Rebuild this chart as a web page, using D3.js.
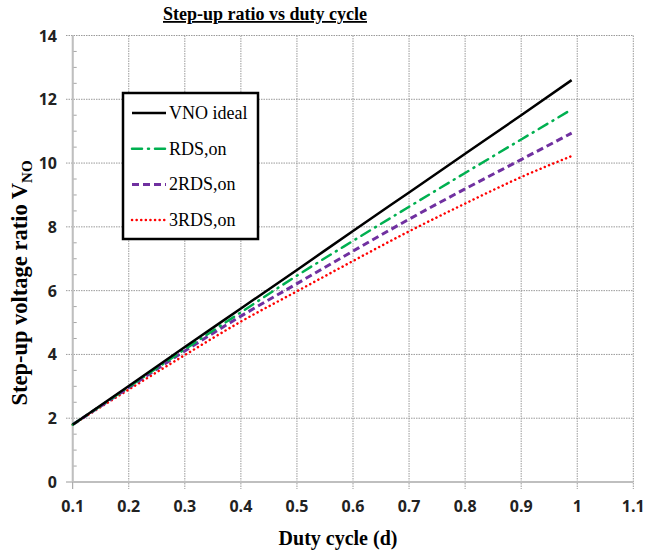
<!DOCTYPE html>
<html>
<head>
<meta charset="utf-8">
<script src="https://cdnjs.cloudflare.com/ajax/libs/d3/7.8.5/d3.min.js"></script>
<style>
  body { margin: 0; background: #fff; }
  svg { display: block; }
</style>
</head>
<body>
<svg width="646" height="555"></svg>
<script>
// duty cycle values
var duty = [0.1, 0.2, 0.3, 0.4, 0.5, 0.6, 0.7, 0.8, 0.9, 0.99];

// series
var vnoIdeal = [1.80, 3.01, 4.23, 5.44, 6.65, 7.87, 9.08, 10.29, 11.50, 12.60];
var rds1 = [1.80, 2.98, 4.16, 5.32, 6.47, 7.56, 8.63, 9.69, 10.74, 11.68];
var rds2 = [1.80, 2.96, 4.11, 5.20, 6.22, 7.24, 8.24, 9.19, 10.11, 10.94];
var rds3 = [1.80, 2.90, 3.98, 5.03, 5.98, 6.93, 7.86, 8.73, 9.56, 10.22];

var xTicks = [0.1, 0.2, 0.3, 0.4, 0.5, 0.6, 0.7, 0.8, 0.9, 1, 1.1];
var yTicks = [0, 2, 4, 6, 8, 10, 12, 14];
var legendNames = ["VNO ideal", "RDS,on", "2RDS,on", "3RDS,on"];

var svg = d3.select("svg");

var x = d3.scaleLinear().domain([0.1, 1.1]).range([72.7, 633.3]);
var y = d3.scaleLinear().domain([0, 14]).range([482, 35.5]);

// grid
var grid = svg.append("g");
grid.selectAll("line.h")
  .data(yTicks)
  .enter()
  .append("line")
  .attr("x1", 66)
  .attr("x2", x(1.1))
  .attr("y1", (d) => y(d))
  .attr("y2", (d) => y(d))
  .style("stroke", "#9a9a9a")
  .style("stroke-width", 1)
  .style("stroke-dasharray", (d) => d == 0 ? null : "1.5,1");

grid.selectAll("line.v")
  .data(xTicks)
  .enter()
  .append("line")
  .attr("x1", (d) => x(d))
  .attr("x2", (d) => x(d))
  .attr("y1", y(14))
  .attr("y2", 489)
  .style("stroke", "#9a9a9a")
  .style("stroke-width", 1)
  .style("stroke-dasharray", (d) => d == 0.1 ? null : "1.5,1");

// minor ticks on the y axis
var minor = d3.range(0.5, 14, 0.5).filter((d) => d % 2 != 0);
grid.selectAll("line.m")
  .data(minor)
  .enter()
  .append("line")
  .attr("x1", x(0.1))
  .attr("x2", x(0.1) + 4)
  .attr("y1", (d) => y(d))
  .attr("y2", (d) => y(d))
  .style("stroke", "#a6a6a6")
  .style("stroke-width", 1);

// axis lines
svg.append("line")
  .attr("x1", x(0.1)).attr("x2", x(0.1))
  .attr("y1", y(14)).attr("y2", y(0))
  .style("stroke", "#bfbfbf").style("stroke-width", 2);
svg.append("line")
  .attr("x1", x(0.1)).attr("x2", x(1.1))
  .attr("y1", y(0)).attr("y2", y(0))
  .style("stroke", "#bfbfbf").style("stroke-width", 2);

// tick labels
svg.append("g")
  .selectAll("text")
  .data(yTicks)
  .enter()
  .append("text")
  .attr("x", 57)
  .attr("y", (d) => y(d) + 6)
  .attr("text-anchor", "end")
  .style("font-family", "'Open Sans', sans-serif")
  .style("font-weight", "bold")
  .style("font-size", "16px")
  .style("fill", "#222")
  .text((d) => d);

svg.append("g")
  .selectAll("text")
  .data(xTicks)
  .enter()
  .append("text")
  .attr("x", (d) => x(d))
  .attr("y", 512)
  .attr("text-anchor", "middle")
  .style("font-family", "'Open Sans', sans-serif")
  .style("font-weight", "bold")
  .style("font-size", "16px")
  .style("fill", "#222")
  .text((d) => d);

// series
var series = [
  { name: legendNames[0], values: vnoIdeal, color: "#000000", width: 2.5, dash: null, cap: "butt" },
  { name: legendNames[1], values: rds1, color: "#00b050", width: 2.5, dash: "10,6,1,6", cap: "round" },
  { name: legendNames[2], values: rds2, color: "#7030a0", width: 3, dash: "7,4", cap: "butt" },
  { name: legendNames[3], values: rds3, color: "#ff0000", width: 2.5, dash: "0.1,4.5", cap: "round" }
];

var line = d3.line()
  .x((d) => x(d[0]))
  .y((d) => y(d[1]))
  .curve(d3.curveMonotoneX);

svg.append("g")
  .selectAll("path")
  .data(series.slice().reverse())
  .enter()
  .append("path")
  .attr("d", (s) => line(duty.map((d, i) => [d, s.values[i]])))
  .style("fill", "none")
  .style("stroke", (s) => s.color)
  .style("stroke-width", (s) => s.width)
  .style("stroke-dasharray", (s) => s.dash)
  .style("stroke-linecap", (s) => s.cap);

// legend
var legend = svg.append("g");
legend.append("rect")
  .attr("x", 123).attr("y", 93)
  .attr("width", 135).attr("height", 146)
  .style("fill", "#fff")
  .style("stroke", "#000")
  .style("stroke-width", 2.5);

var items = legend.selectAll("g")
  .data(series)
  .enter()
  .append("g")
  .attr("transform", (d, i) => "translate(0," + (113 + i * 35.7) + ")");
items.append("line")
  .attr("x1", 132).attr("x2", 166)
  .style("stroke", (s) => s.color)
  .style("stroke-width", (s) => s.width)
  .style("stroke-dasharray", (s) => s.dash)
  .style("stroke-linecap", (s) => s.cap);
items.append("text")
  .attr("x", 169)
  .attr("y", 6)
  .style("font-family", "'Liberation Serif', 'Times New Roman', serif")
  .style("font-size", "18px")
  .text((s) => s.name);

// titles
var title = svg.append("text")
  .attr("x", 265)
  .attr("y", 20)
  .attr("text-anchor", "middle")
  .style("font-family", "'Liberation Serif', 'Times New Roman', serif")
  .style("font-weight", "bold")
  .style("font-size", "18px")
  .style("text-decoration", "underline")
  .text("Step-up ratio vs duty cycle");

svg.append("text")
  .attr("x", 338)
  .attr("y", 545)
  .attr("text-anchor", "middle")
  .style("font-family", "'Liberation Serif', 'Times New Roman', serif")
  .style("font-weight", "bold")
  .style("font-size", "20px")
  .text("Duty cycle (d)");

var yTitle = svg.append("text")
  .attr("transform", "translate(27,283) rotate(-90)")
  .attr("text-anchor", "middle")
  .style("font-family", "'Liberation Serif', 'Times New Roman', serif")
  .style("font-weight", "bold")
  .style("font-size", "22.5px");
yTitle.append("tspan").text("Step-up voltage ratio V");
yTitle.append("tspan")
  .attr("dy", 5)
  .style("font-size", "15px")
  .text("NO");
</script>
</body>
</html>
